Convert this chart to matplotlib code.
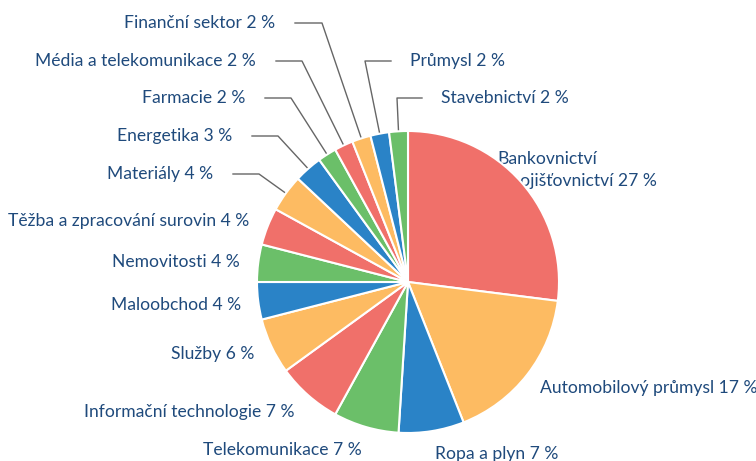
import numpy as np
import matplotlib
matplotlib.use("Agg")
import matplotlib.pyplot as plt

# data
sectors = ["Bankovnictví\na pojišťovnictví", "Automobilový průmysl", "Ropa a plyn",
           "Telekomunikace", "Informační technologie", "Služby", "Maloobchod",
           "Nemovitosti", "Těžba a zpracování surovin", "Materiály", "Energetika",
           "Farmacie", "Média a telekomunikace", "Finanční sektor", "Průmysl",
           "Stavebnictví"]
shares = [27, 17, 7, 7, 7, 6, 4, 4, 4, 4, 3, 2, 2, 2, 2, 2]

palette = ["#F0706A", "#FDBB62", "#2A83C7", "#6BBF69"]
text_col = "#1F4A7C"

W, H = 756, 461

# label layout in pixel coords (x, y, ha, elbow or None)
layout = [
    (497, 170, "left", None),
    (540, 388, "left", None),
    (435, 454, "left", None),
    (362, 450, "right", None),
    (295, 412, "right", None),
    (254, 354, "right", None),
    (241, 305, "right", None),
    (240, 262, "right", None),
    (249, 221, "right", None),
    (213, 174, "right", (259, 174)),
    (232, 136, "right", (278, 136)),
    (245, 98, "right", (291, 98)),
    (256, 61, "right", (302, 61)),
    (275, 23, "right", (322, 23)),
    (410, 61, "left", (365, 61)),
    (441, 98, "left", (397, 98)),
]

plt.rcParams['font.family'] = ['Lato', 'DejaVu Sans']

fig = plt.figure(figsize=(W / 100, H / 100), dpi=100)
ax = fig.add_axes([0, 0, 1, 1])

cx, cy, r = 408, H - 282, 151
colors = [palette[i % 4] for i in range(len(shares))]
wedges, _ = ax.pie(shares, colors=colors, startangle=90, counterclock=False,
                   center=(cx, cy), radius=r, frame=True,
                   wedgeprops=dict(edgecolor="white", linewidth=1.5, zorder=3))
ax.set_xlim(0, W)
ax.set_ylim(0, H)
ax.set_aspect('equal')
ax.axis('off')

for w, name, val, (lx, ly, ha, elbow) in zip(wedges, sectors, shares, layout):
    label = f"{name} {val} %"
    ax.text(lx, H - ly, label, ha=ha, va="center", fontsize=12.6, color=text_col,
            zorder=2, linespacing=1.45)
    if elbow is not None:
        mid = np.deg2rad((w.theta1 + w.theta2) / 2)
        ex, ey = cx + r * np.cos(mid), cy + r * np.sin(mid)
        ox, oy = elbow
        if ha == "right":
            hx = lx + 20
        else:
            hx = lx - 19
        ax.plot([hx, ox, ex], [H - ly, H - oy, ey], color="#666666", lw=1, zorder=1)

fig.savefig("out.png", dpi=100, facecolor="white")
